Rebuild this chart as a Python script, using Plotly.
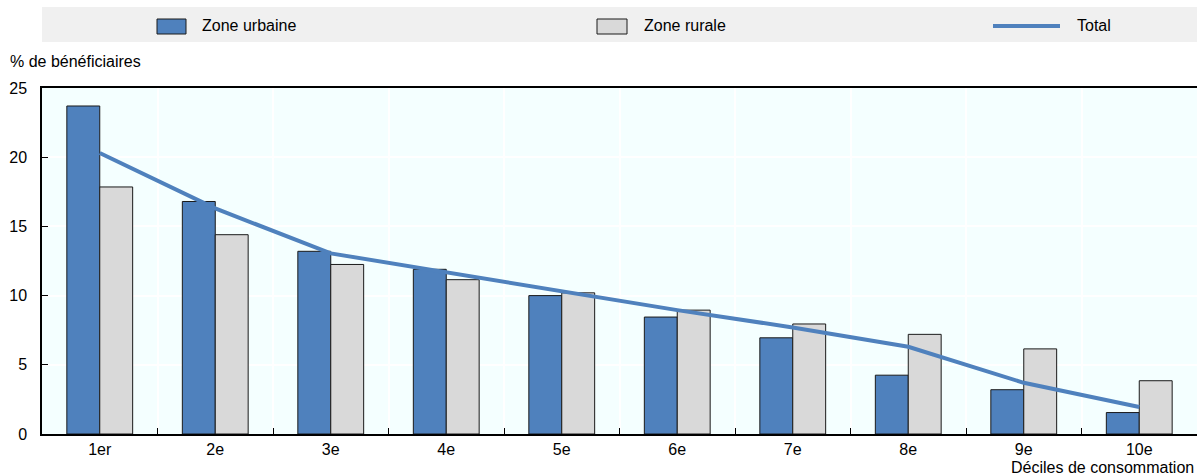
import plotly.graph_objects as go

categories = ["1er", "2e", "3e", "4e", "5e", "6e", "7e", "8e", "9e", "10e"]
urbaine = [23.7, 16.8, 13.2, 11.9, 10.0, 8.45, 6.95, 4.25, 3.2, 1.55]
rurale = [17.85, 14.4, 12.25, 11.15, 10.2, 8.95, 7.95, 7.2, 6.15, 3.85]
total = [20.3, 16.3, 13.05, 11.7, 10.3, 8.95, 7.7, 6.3, 3.7, 1.95]
series_names = ["Zone urbaine", "Zone rurale", "Total"]

BLUE = "#4F81BD"
GRAY = "#D9D9D9"
FONT = "Liberation Sans, Arial, sans-serif"

W, H = 1197, 476
ML, MR, MT, MB = 42, 0, 88, 42
PW = W - ML - MR
PH = H - MT - MB

def px_x(x):
    return (x - ML) / PW

def px_y(y):
    return (H - MB - y) / PH

fig = go.Figure()
fig.add_trace(go.Bar(x=categories, y=urbaine, name=series_names[0],
                     marker=dict(color=BLUE, line=dict(color="#1a1a1a", width=1))))
fig.add_trace(go.Bar(x=categories, y=rurale, name=series_names[1],
                     marker=dict(color=GRAY, line=dict(color="#1a1a1a", width=1))))
fig.add_trace(go.Scatter(x=categories, y=total, name=series_names[2], mode="lines",
                         line=dict(color=BLUE, width=4)))

# Legend band and swatches (drawn as shapes to mimic the reference legend)
shapes = [
    dict(type="rect", xref="paper", yref="paper", x0=0, x1=1,
         y0=px_y(42), y1=px_y(7), fillcolor="#F0F0F0", line=dict(width=0), layer="below"),
    dict(type="rect", xref="paper", yref="paper", x0=px_x(157), x1=px_x(186),
         y0=px_y(34), y1=px_y(19), fillcolor=BLUE, line=dict(color="#1a1a1a", width=1)),
    dict(type="rect", xref="paper", yref="paper", x0=px_x(597), x1=px_x(627),
         y0=px_y(34), y1=px_y(19), fillcolor=GRAY, line=dict(color="#1a1a1a", width=1)),
    dict(type="line", xref="paper", yref="paper", x0=px_x(993), x1=px_x(1060),
         y0=px_y(26), y1=px_y(26), line=dict(color=BLUE, width=4)),
]

legend_text = [(series_names[0], 200), (series_names[1], 642), (series_names[2], 1075)]
annotations = [
    dict(text=t, xref="paper", yref="paper", x=px_x(xp), y=px_y(26),
         xanchor="left", yanchor="middle", showarrow=False,
         font=dict(family=FONT, size=16, color="#000"))
    for t, xp in legend_text
]
annotations += [
    dict(text="% de bénéficiaires", xref="paper", yref="paper",
         x=px_x(8), y=px_y(62), xanchor="left", yanchor="middle",
         showarrow=False, font=dict(family=FONT, size=16)),
    dict(text="Déciles de consommation", xref="paper", yref="paper",
         x=px_x(1196), y=px_y(467), xanchor="right", yanchor="middle",
         showarrow=False, font=dict(family=FONT, size=16)),
]

fig.update_layout(
    width=W, height=H,
    margin=dict(l=ML, r=MR, t=MT, b=MB),
    showlegend=False,
    paper_bgcolor="white",
    plot_bgcolor="#F4FFFF",
    barmode="group", bargap=0.43, bargroupgap=0,
    font=dict(family=FONT, size=16, color="#000"),
    xaxis=dict(
        type="category", tickson="boundaries", ticks="inside", ticklen=6,
        tickcolor="#000", showline=True, linecolor="#000", linewidth=1.5,
        mirror=True, showgrid=True, gridcolor="white", gridwidth=1.5,
        tickfont=dict(family=FONT, size=16), range=[-0.5, 9.5],
    ),
    yaxis=dict(
        range=[0, 25], dtick=5, ticks="inside", ticklen=6, tickcolor="#000",
        showline=True, linecolor="#000", linewidth=1.5, showgrid=True,
        gridcolor="white", gridwidth=1.5, zeroline=False,
        tickfont=dict(family=FONT, size=16), ticklabelstandoff=10,
    ),
    shapes=shapes,
    annotations=annotations,
)

fig.write_html("out.html", config={"displayModeBar": False},
               post_script="document.body.style.margin='0';")
